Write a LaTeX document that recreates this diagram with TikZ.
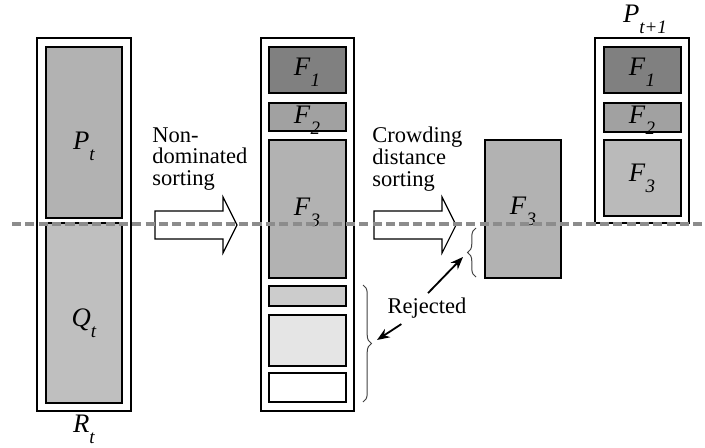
\documentclass[tikz,border=0pt]{standalone}
\usepackage{fontspec}
\setmainfont{Liberation Serif}
\usetikzlibrary{arrows.meta,decorations.pathreplacing,calc}

\definecolor{frontA}{gray}{0.50}
\definecolor{frontB}{gray}{0.63}
\definecolor{frontC}{gray}{0.70}
\definecolor{frontD}{gray}{0.80}
\definecolor{frontE}{gray}{0.90}
\definecolor{popQ}{gray}{0.75}
\definecolor{cutline}{gray}{0.55}

\newcommand\ilab[2]{\textit{#1}\raisebox{-0.42em}{\fontsize{13.5}{13.5}\selectfont\textit{#2}}}

\begin{document}
\begin{tikzpicture}[x=0.025cm,y=-0.025cm,
  outer/.style={draw, line width=1.4pt, fill=white},
  inner/.style={draw, line width=1pt},
  lab/.style={font=\fontsize{19}{19}\selectfont, inner sep=0pt},
  txt/.style={font=\fontsize{16}{15.6}\selectfont, align=left, inner sep=0pt},
  blockarrow/.style={draw, line width=0.8pt, fill=white},
  brc/.style={decorate, decoration={brace, amplitude=6pt}, draw=black!75, line width=0.7pt},
  rej/.style={line width=1.3pt, -{Stealth[length=9pt,width=7pt]}},
  cut/.style={draw=cutline, line width=2.3pt, dash pattern=on 6.5pt off 3pt}]

\useasboundingbox (0,0) rectangle (705,448);

% R_t
\draw[outer] (37,38) rectangle (131,411);
\draw[inner, fill=frontC] (46,47) rectangle (122,218);
\draw[inner, fill=popQ] (46,223) rectangle (122,403);
\node[lab] (pt) at (84,146) {\ilab{P}{t}};
\node[lab] (qt) at (84,323) {\ilab{Q}{t}};
\node[lab, anchor=base] (rt) at (84,432) {\ilab{R}{t}};

% fronts
\draw[outer] (261,38) rectangle (354,411);
\draw[inner, fill=frontA] (269,47) rectangle (346,93);
\draw[inner, fill=frontB] (269,103) rectangle (346,131);
\draw[inner, fill=frontC] (269,140) rectangle (346,278);
\draw[inner, fill=frontD] (269,286) rectangle (346,306);
\draw[inner, fill=frontE] (269,315) rectangle (346,366);
\draw[inner, fill=white] (269,373) rectangle (346,402);
\node[lab] (f1a) at (307,72) {\ilab{F}{1}};
\node[lab] (f2a) at (307,120) {\ilab{F}{2}};
\node[lab] (f3a) at (307,212) {\ilab{F}{3}};

% F_3 split
\draw[inner, fill=frontC] (485,140) rectangle (561,278);
\node[lab] (f3b) at (523,211) {\ilab{F}{3}};

% P_{t+1}
\draw[outer] (595,38) rectangle (689,223);
\draw[inner, fill=frontA] (604,47) rectangle (681,93);
\draw[inner, fill=frontB] (604,103) rectangle (681,132);
\draw[inner, fill=frontC!90!white] (604,140) rectangle (681,216);
\node[lab] (f1c) at (642,72) {\ilab{F}{1}};
\node[lab] (f2c) at (642,120) {\ilab{F}{2}};
\node[lab] (f3c) at (642,178) {\ilab{F}{3}};
\node[lab] (ptn) at (645,19) {\ilab{P}{t+1}};

% sorting arrows
\foreach \ax in {155,374}
  \draw[blockarrow] (\ax,211) -- ++(68,0) -- ++(0,-14) -- ++(14,28)
    -- ++(-14,28) -- ++(0,-14) -- ++(-68,0) -- cycle;
\node[txt, anchor=north west] (nds) at (152,127) {Non-\\dominated\\sorting};
\node[txt, anchor=north west] (cds) at (372,127) {Crowding\\distance\\sorting};

% rejected
\draw[brc] (476,277) -- (476,228);
\draw[brc] (363,285) -- (363,402);
\coordinate (tipa) at (463,257);
\coordinate (tipb) at (377,340);
\node[txt, anchor=base] (rejt) at (427,313) {Rejected};
\draw[rej] ($(rejt.north)+(1,-4)$) -- (tipa);
\draw[rej] ($(rejt.south west)+(14,6)$) -- (tipb);

\draw[cut] (12,224) -- (705,224);

\end{tikzpicture}
\end{document}
